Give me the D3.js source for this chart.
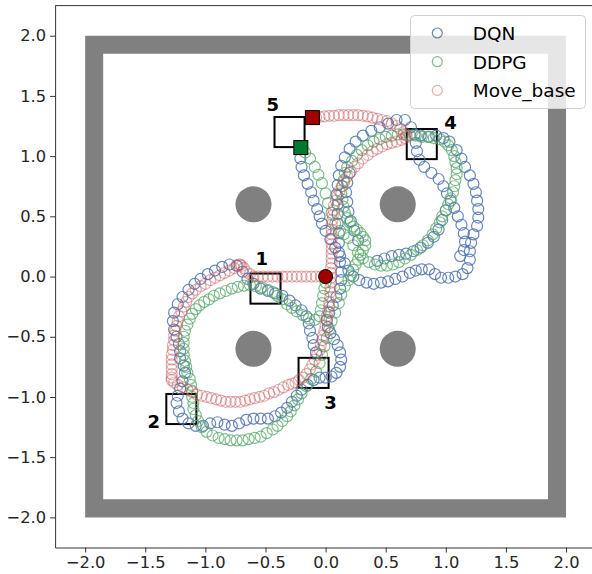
<!DOCTYPE html>
<html><head><meta charset="utf-8">
<script src="https://cdn.jsdelivr.net/npm/d3@7"></script>
<style>body{margin:0;background:#fff}svg{display:block}text{font-family:"DejaVu Sans",sans-serif}</style>
</head><body><svg id="c" width="592" height="574"></svg>
<script>
// ---------- data ----------
const tickValues = [-2.0,-1.5,-1.0,-0.5,0.0,0.5,1.0,1.5,2.0];
const seriesNames = ["DQN","DDPG","Move_base"];
const seriesColors = ["#4c72b0","#55a868","#c44e52"];
const seriesOpacity = [0.85,0.75,0.45];
const wallOuter = 2.0, wallInner = 1.85;
const obstacles = [[-0.6,0.6],[0.6,0.6],[-0.6,-0.6],[0.6,-0.6]];
const obstacleRadius = 0.15;
const goalLabels = ["1","2","3","4","5"];
const goalCenters = [[-0.5,-0.1],[-1.2,-1.1],[-0.1,-0.8],[0.8,1.1],[-0.3,1.2]];
const goalSize = 0.25;
const goalLabelPos = [[-0.53,0.15],[-1.43,-1.2],[0.04,-1.05],[1.04,1.28],[-0.44,1.43]];
const startPoint = [0,0];
const endDDPG = [-0.206,1.071];
const endMoveBase = [-0.11,1.32];

const dqn = [
[-0.08,-0.63],[-0.1,-0.57],[-0.11,-0.51],[-0.13,-0.45],[-0.14,-0.39],[-0.16,-0.33],[-0.2,-0.28],[-0.25,-0.24],[-0.3,-0.2],[-0.36,-0.16],[-0.42,-0.14],[-0.48,-0.12],[-0.54,-0.1],[-0.6,-0.06],[-0.65,-0.02],[-0.69,0.04],[-0.74,0.09],[-0.8,0.1],[-0.86,0.08],[-0.92,0.05],[-0.98,0.02],[-1.04,-0.02],[-1.09,-0.06],[-1.14,-0.11],[-1.19,-0.17],[-1.23,-0.23],[-1.26,-0.3],[-1.27,-0.37],[-1.26,-0.44],[-1.24,-0.5],[-1.22,-0.56],[-1.21,-0.62],[-1.21,-0.68],[-1.18,-0.74],[-1.17,-0.8],[-1.19,-0.87],[-1.21,-0.93],[-1.23,-0.99],[-1.24,-1.05],[-1.22,-1.12],[-1.19,-1.18],[-1.14,-1.22],[-1.08,-1.24],[-1.02,-1.24],[-0.96,-1.22],[-0.9,-1.21],[-0.84,-1.23],[-0.78,-1.24],[-0.72,-1.22],[-0.66,-1.19],[-0.6,-1.18],[-0.54,-1.18],[-0.48,-1.18],[-0.42,-1.16],[-0.37,-1.13],[-0.32,-1.09],[-0.28,-1.04],[-0.24,-0.99],[-0.2,-0.94],[-0.15,-0.9],[-0.1,-0.86],[-0.05,-0.84],[0.0,-0.84],[0.05,-0.83],[0.09,-0.8],[0.12,-0.75],[0.13,-0.69],[0.12,-0.63],[0.1,-0.57],[0.07,-0.52],[0.04,-0.47],[0.02,-0.42],[0.01,-0.36],
[0.03,-0.3],[0.06,-0.24],[0.09,-0.17],[0.12,-0.1],[0.13,-0.03],[0.13,0.04],[0.12,0.12],[0.11,0.2],[0.11,0.28],[0.11,0.36],[0.1,0.44],[0.1,0.52],[0.1,0.6],[0.09,0.68],[0.1,0.76],[0.11,0.84],[0.13,0.92],[0.16,0.99],[0.2,1.06],[0.25,1.12],[0.31,1.17],[0.38,1.21],[0.45,1.24],[0.52,1.27],[0.59,1.3],[0.66,1.3],[0.71,1.24],[0.74,1.18],[0.75,1.11],[0.76,1.04],[0.78,0.97],[0.82,0.91],[0.88,0.86],[0.94,0.81],[0.98,0.75],[1.01,0.69],[1.04,0.63],[1.07,0.57],[1.1,0.5],[1.13,0.43],[1.15,0.36],[1.16,0.29],[1.15,0.22],[1.12,0.17],
[1.0,0.55],[0.97,0.47],[0.94,0.39],[0.9,0.33],[0.85,0.28],[0.79,0.24],[0.73,0.21],[0.67,0.19],[0.61,0.18],[0.55,0.17],[0.49,0.15],[0.43,0.13],
[0.27,0.3],[0.24,0.38],[0.21,0.46],[0.19,0.54],[0.18,0.62],[0.17,0.7],[0.18,0.78],[0.2,0.86],
[0.79,1.17],[0.86,1.16],[0.92,1.17],[0.98,1.15],[1.03,1.12],[1.09,1.05],[1.13,0.98],[1.16,0.91],[1.2,0.84],[1.23,0.77],[1.25,0.7],[1.26,0.63],[1.27,0.56],[1.27,0.49],[1.26,0.42],[1.23,0.35],[1.21,0.28],[1.2,0.21],[1.2,0.14],[1.18,0.07],[1.14,0.02],[1.08,0.0],[1.02,-0.01],[0.96,-0.01],[0.91,0.02],[0.86,0.06],[0.8,0.06],[0.75,0.05],[0.7,0.03],[0.64,0.0],[0.58,-0.02],[0.52,-0.04],[0.46,-0.05],[0.4,-0.06],[0.34,-0.05],[0.28,-0.03],[0.23,0.0],[0.19,0.05],[0.16,0.11],[0.12,0.17],[0.08,0.24],[0.04,0.31],[0.0,0.38],[-0.03,0.44],[-0.05,0.5],[-0.07,0.56],[-0.1,0.63],[-0.12,0.7],[-0.15,0.77],[-0.18,0.84],[-0.2,0.91],[-0.21,0.98]
];

const ddpg = [
[0.0,-0.05],[-0.01,-0.1],[-0.02,-0.16],[-0.03,-0.22],[-0.04,-0.28],[-0.05,-0.33],
[-0.09,-0.36],[-0.14,-0.35],[-0.19,-0.32],[-0.24,-0.29],[-0.28,-0.26],[-0.32,-0.23],[-0.36,-0.19],[-0.4,-0.16],[-0.44,-0.13],[-0.48,-0.11],[-0.53,-0.09],[-0.58,-0.08],[-0.63,-0.07],[-0.68,-0.075],[-0.73,-0.085],[-0.78,-0.1],[-0.83,-0.12],[-0.88,-0.14],[-0.93,-0.16],[-0.97,-0.19],[-1.01,-0.21],[-1.05,-0.24],[-1.08,-0.27],[-1.11,-0.31],[-1.13,-0.35],[-1.15,-0.4],[-1.17,-0.45],[-1.18,-0.5],[-1.18,-0.55],[-1.18,-0.6],[-1.18,-0.65],[-1.17,-0.7],[-1.16,-0.75],[-1.15,-0.8],[-1.13,-0.85],[-1.12,-0.9],[-1.11,-0.95],[-1.11,-1.0],[-1.1,-1.05],[-1.1,-1.1],[-1.08,-1.15],[-1.06,-1.2],[-1.03,-1.25],[-0.99,-1.29],[-0.94,-1.32],[-0.89,-1.34],[-0.84,-1.35],[-0.79,-1.36],[-0.74,-1.36],[-0.69,-1.36],[-0.64,-1.35],[-0.59,-1.34],[-0.54,-1.33],[-0.49,-1.3],[-0.44,-1.27],[-0.4,-1.24],[-0.36,-1.2],[-0.32,-1.16],[-0.29,-1.12],[-0.26,-1.07],[-0.23,-1.02],[-0.2,-0.97],[-0.16,-0.91],[-0.12,-0.85],[-0.08,-0.79],[-0.05,-0.72],[-0.03,-0.65],[-0.01,-0.58],[0.01,-0.51],[0.03,-0.44],[0.05,-0.37],[0.08,-0.3],[0.11,-0.22],[0.13,-0.15],[0.16,-0.08],[0.19,-0.03],[0.21,0.01],[0.23,0.055],[0.25,0.1],[0.27,0.14],[0.29,0.18],[0.31,0.22],[0.33,0.26],[0.33,0.3],[0.31,0.33],[0.29,0.36],[0.26,0.39],[0.23,0.415],[0.2,0.45],[0.18,0.485],[0.16,0.53],[0.15,0.58],[0.14,0.64],[0.13,0.69],[0.14,0.75],[0.15,0.8],[0.16,0.86],[0.18,0.91],[0.22,0.96],[0.26,1.01],[0.3,1.05],[0.35,1.09],[0.4,1.12],[0.45,1.14],[0.5,1.16],[0.55,1.17],[0.6,1.18],[0.65,1.18],[0.7,1.17],[0.75,1.17],[0.8,1.16],[0.85,1.16],[0.9,1.15],[0.95,1.14],[0.99,1.12],[1.02,1.09],[1.05,1.05],[1.07,1.0],[1.08,0.95],[1.09,0.9],[1.09,0.85],[1.08,0.8],[1.07,0.75],[1.06,0.7],[1.04,0.65],[1.02,0.6],[1.0,0.55],[0.97,0.5],[0.95,0.45],[0.92,0.4],[0.89,0.35],[0.85,0.3],[0.81,0.26],[0.76,0.22],[0.71,0.18],[0.66,0.15],[0.61,0.12],[0.56,0.1],[0.51,0.09],[0.46,0.09],[0.41,0.1],[0.36,0.12],[0.31,0.15],[0.27,0.2],[0.23,0.26],[0.19,0.32],[0.15,0.35],[0.12,0.38],[0.08,0.44],[0.05,0.53],[0.02,0.61],[0.0,0.69],[-0.03,0.775],[-0.06,0.845],[-0.09,0.91],[-0.13,0.98],[-0.17,1.03]
];

const moveBase = [
[0,0],[-0.04,0],[-0.08,0],[-0.12,0],[-0.16,0],[-0.2,0],[-0.24,0],[-0.28,0],[-0.32,0],[-0.36,0],[-0.4,0],[-0.44,0],[-0.48,0],[-0.52,0],[-0.56,0],[-0.6,0],[-0.63,0.02],[-0.66,0.04],[-0.68,0.07],[-0.7,0.09],[-0.71,0.1],[-0.72,0.1],[-0.73,0.09],[-0.76,0.07],[-0.8,0.05],[-0.84,0.03],[-0.88,0.01],[-0.92,-0.01],[-0.96,-0.03],[-1.0,-0.06],[-1.04,-0.08],[-1.08,-0.11],[-1.11,-0.14],[-1.14,-0.17],[-1.16,-0.21],[-1.18,-0.25],[-1.2,-0.29],[-1.22,-0.33],[-1.23,-0.37],[-1.24,-0.41],[-1.25,-0.45],[-1.26,-0.49],[-1.26,-0.53],[-1.27,-0.57],[-1.27,-0.61],[-1.28,-0.65],[-1.28,-0.69],[-1.28,-0.73],[-1.28,-0.77],[-1.28,-0.81],[-1.28,-0.84],[-1.28,-0.86],[-1.26,-0.88],[-1.23,-0.9],[-1.19,-0.92],[-1.15,-0.94],[-1.11,-0.96],[-1.07,-0.98],[-1.03,-0.99],[-0.99,-1.0],[-0.95,-1.01],[-0.91,-1.02],[-0.87,-1.03],[-0.83,-1.04],[-0.79,-1.04],[-0.75,-1.04],[-0.71,-1.04],[-0.67,-1.03],[-0.63,-1.02],[-0.59,-1.01],[-0.55,-1.0],[-0.51,-0.99],[-0.47,-0.97],[-0.43,-0.96],[-0.39,-0.94],[-0.35,-0.92],[-0.31,-0.9],[-0.28,-0.89],[-0.25,-0.88],[-0.22,-0.86],[-0.19,-0.84],[-0.16,-0.81],[-0.13,-0.77],[-0.11,-0.73],[-0.09,-0.69],[-0.07,-0.65],[-0.05,-0.61],[-0.04,-0.57],[-0.03,-0.53],[-0.02,-0.49],[-0.01,-0.45],[0.0,-0.41],[0.01,-0.37],[0.01,-0.33],[0.02,-0.29],[0.03,-0.25],[0.03,-0.21],[0.04,-0.17],[0.04,-0.13],[0.04,-0.09],[0.045,-0.05],[0.045,-0.01],[0.045,0.03],[0.045,0.07],[0.05,0.11],[0.05,0.15],[0.05,0.19],[0.05,0.23],[0.05,0.27],[0.05,0.31],[0.05,0.35],[0.05,0.39],[0.05,0.43],[0.055,0.47],[0.06,0.51],[0.065,0.55],[0.07,0.59],[0.085,0.63],[0.1,0.67],[0.115,0.71],[0.135,0.75],[0.155,0.79],[0.18,0.83],[0.21,0.87],[0.24,0.91],[0.27,0.94],[0.31,0.98],[0.35,1.01],[0.39,1.04],[0.43,1.06],[0.47,1.08],[0.51,1.1],[0.55,1.11],[0.59,1.12],[0.63,1.135],[0.66,1.15],[0.675,1.17],[0.67,1.18],[0.65,1.2],[0.62,1.23],[0.59,1.25],[0.55,1.27],[0.51,1.29],[0.47,1.3],[0.43,1.31],[0.39,1.32],[0.35,1.33],[0.31,1.335],[0.27,1.34],[0.23,1.34],[0.19,1.34],[0.15,1.34],[0.11,1.34],[0.07,1.335],[0.03,1.335],[-0.01,1.33],[-0.05,1.325],[-0.08,1.32]
];
const seriesData = [dqn, ddpg, moveBase];

// ---------- drawing ----------
const svg = d3.select("#c");
const x = d3.scaleLinear().domain([-2.25,2.25]).range([55.1,596.1]);
const y = d3.scaleLinear().domain([-2.25,2.25]).range([547.5,5.6]);
const kx = x(1)-x(0), ky = y(0)-y(1);

// walls
const wallPath = d3.path();
wallPath.rect(x(-wallOuter), y(wallOuter), x(wallOuter)-x(-wallOuter), y(-wallOuter)-y(wallOuter));
wallPath.rect(x(-wallInner), y(wallInner), x(wallInner)-x(-wallInner), y(-wallInner)-y(wallInner));
svg.append("path").attr("d", wallPath.toString()).attr("fill","#808080").attr("fill-rule","evenodd");

// obstacles
svg.selectAll("circle.obs").data(obstacles).join("circle").attr("class","obs")
  .attr("cx",d=>x(d[0])).attr("cy",d=>y(d[1])).attr("r",obstacleRadius*kx).attr("fill","#808080");

// goal squares
svg.selectAll("rect.goal").data(goalCenters).join("rect").attr("class","goal")
  .attr("x",d=>x(d[0]-goalSize/2)).attr("y",d=>y(d[1]+goalSize/2))
  .attr("width",goalSize*kx).attr("height",goalSize*ky)
  .attr("fill","none").attr("stroke","#000").attr("stroke-width",2);

// trajectories
seriesData.forEach((pts,i)=>{
  svg.append("g").selectAll("circle").data(pts).join("circle")
    .attr("cx",d=>x(d[0])).attr("cy",d=>y(d[1])).attr("r",5.5)
    .attr("fill","none").attr("stroke",seriesColors[i]).attr("stroke-opacity",seriesOpacity[i]).attr("stroke-width",1.2);
});

// goal labels
svg.selectAll("text.gl").data(goalLabels).join("text").attr("class","gl")
  .attr("x",(d,i)=>x(goalLabelPos[i][0])).attr("y",(d,i)=>y(goalLabelPos[i][1])+6.5)
  .attr("text-anchor","middle").attr("font-size",18).attr("font-weight","bold").attr("fill","#000").text(d=>d);

// start / end markers
svg.append("circle").attr("cx",x(startPoint[0])).attr("cy",y(startPoint[1])).attr("r",7)
  .attr("fill","#a00000").attr("stroke","#000").attr("stroke-width",1);
svg.append("rect").attr("x",x(endDDPG[0])-7).attr("y",y(endDDPG[1])-7).attr("width",14).attr("height",14)
  .attr("fill","#007a2f").attr("stroke","#000").attr("stroke-width",1);
svg.append("rect").attr("x",x(endMoveBase[0])-7).attr("y",y(endMoveBase[1])-7).attr("width",14).attr("height",14)
  .attr("fill","#a00000").attr("stroke","#000").attr("stroke-width",1);

// axes
const fmt = d3.format(".1f");
const gx = svg.append("g").attr("transform",`translate(0,${y(-2.25)})`)
  .call(d3.axisBottom(x).tickValues(tickValues).tickFormat(fmt).tickSize(5).tickSizeOuter(0).tickPadding(4));
const gy = svg.append("g").attr("transform",`translate(${x(-2.25)},0)`)
  .call(d3.axisLeft(y).tickValues(tickValues).tickFormat(fmt).tickSize(5).tickSizeOuter(0).tickPadding(4));
[gx,gy].forEach(g=>{
  g.selectAll("text").attr("font-size",16.3).attr("font-family","DejaVu Sans").attr("fill","#262626");
  g.selectAll("line").attr("stroke","#333");
  g.select(".domain").attr("stroke","#333");
});
svg.append("line").attr("x1",x(-2.25)).attr("x2",x(2.25)).attr("y1",y(2.25)).attr("y2",y(2.25)).attr("stroke","#333");
svg.append("line").attr("x1",x(2.25)).attr("x2",x(2.25)).attr("y1",y(2.25)).attr("y2",y(-2.25)).attr("stroke","#333");

// legend
const lg = svg.append("g");
lg.append("rect").attr("x",410.5).attr("y",15.5).attr("width",175).attr("height",93).attr("rx",4)
  .attr("fill","#fff").attr("fill-opacity",0.8).attr("stroke","#d0d0d0");
seriesNames.forEach((n,i)=>{
  const cy = 33 + i*28.7;
  lg.append("circle").attr("cx",437.3).attr("cy",cy).attr("r",5)
    .attr("fill","none").attr("stroke",seriesColors[i]).attr("stroke-opacity",seriesOpacity[i]).attr("stroke-width",1.2);
  lg.append("text").attr("x",472.7).attr("y",cy+6.8).attr("font-size",18.5).attr("fill","#000").text(n);
});
</script></body></html>
